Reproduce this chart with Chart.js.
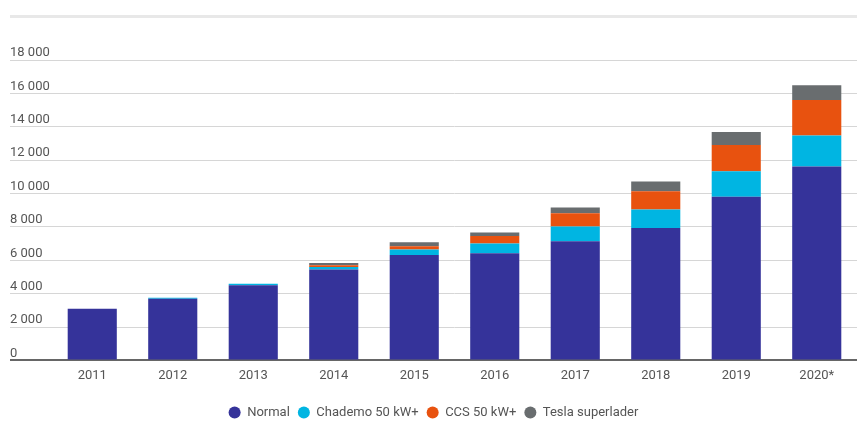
<!DOCTYPE html>
<html>
<head>
<meta charset="utf-8">
<script src="https://cdn.jsdelivr.net/npm/chart.js@4/dist/chart.umd.min.js"></script>
<style>
  body { margin: 0; background: #fff; }
  #wrap { position: relative; width: 857px; height: 421px; }
  #topbar { position: absolute; left: 10px; top: 15px; width: 847px; height: 3px; background: #e8e8e8; }
</style>
</head>
<body>
<div id="wrap">
  <div id="topbar"></div>
  <canvas id="chart"></canvas>
</div>
<script>
// data
var years = ['2011', '2012', '2013', '2014', '2015', '2016', '2017', '2018', '2019', '2020*'];
var normal   = [3100, 3700, 4500, 5440, 6320, 6420, 7140, 7940, 9800, 11620];
var chademo  = [0, 50, 100, 160, 320, 580, 880, 1100, 1540, 1860];
var ccs      = [0, 0, 0, 100, 200, 460, 800, 1100, 1560, 2120];
var tesla    = [0, 0, 0, 140, 240, 200, 340, 580, 780, 880];
var yTicks   = [0, 2000, 4000, 6000, 8000, 10000, 12000, 14000, 16000, 18000];

Chart.defaults.font.family = 'Roboto, "Noto Sans", sans-serif';
Chart.defaults.font.size = 13;
Chart.defaults.color = '#555';

function spaced(v) {
  return String(v).replace(/\B(?=(\d{3})+(?!\d))/g, ' ');
}

var ctx = document.getElementById('chart').getContext('2d');
var chart = new Chart(ctx, {
  type: 'bar',
  data: {
    labels: years,
    datasets: [
      { label: 'Normal', data: normal, backgroundColor: '#35339a' },
      { label: 'Chademo 50 kW+', data: chademo, backgroundColor: '#00b5e2' },
      { label: 'CCS 50 kW+', data: ccs, backgroundColor: '#e8520f' },
      { label: 'Tesla superlader', data: tesla, backgroundColor: '#696d6f' }
    ]
  },
  options: {
    responsive: true,
    maintainAspectRatio: false,
    animation: false,
    layout: { padding: { top: 60, left: 10, right: 0, bottom: -8 } },
    datasets: { bar: { categoryPercentage: 1, barPercentage: 0.61 } },
    plugins: {
      legend: {
        position: 'bottom',
        labels: {
          usePointStyle: true,
          pointStyle: 'circle',
          boxWidth: 12,
          boxHeight: 8.5,
          padding: 8,
          color: '#555'
        }
      },
      tooltip: { enabled: false }
    },
    scales: {
      x: {
        stacked: true,
        grid: { display: false },
        border: { display: false },
        ticks: { padding: 0, color: '#555' },
        afterFit: function (axis) { axis.height += 14; }
      },
      y: {
        stacked: true,
        min: 0,
        max: 18000,
        afterBuildTicks: function (axis) {
          axis.ticks = yTicks.map(function (v) { return { value: v }; });
        },
        afterFit: function (axis) { axis.width = 42; },
        border: { display: false },
        grid: {
          tickLength: 42,
          color: function (c) { return c.tick && c.tick.value === 0 ? '#666' : '#d6d6d6'; },
          lineWidth: function (c) { return c.tick && c.tick.value === 0 ? 2 : 1; }
        },
        ticks: {
          crossAlign: 'far',
          labelOffset: -7,
          color: '#555',
          callback: function (v) { return spaced(v); }
        }
      }
    }
  }
});
</script>
</body>
</html>
